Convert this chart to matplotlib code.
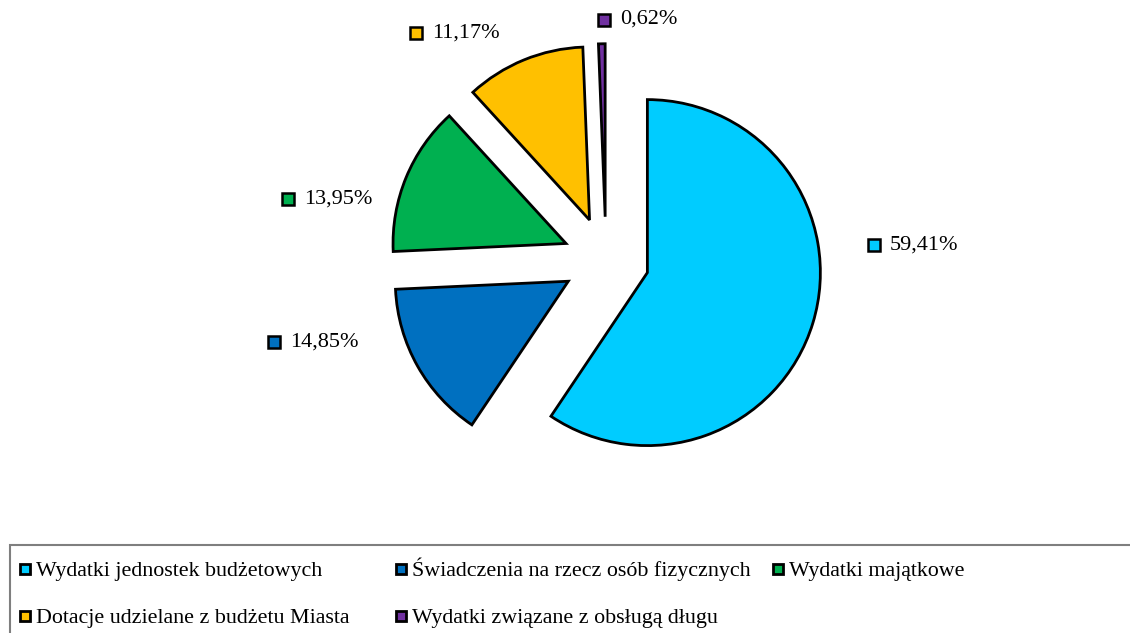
import matplotlib.pyplot as plt
from matplotlib.patches import Rectangle

# data
categories = ["Wydatki jednostek budżetowych",
              "Świadczenia na rzecz osób fizycznych",
              "Wydatki majątkowe",
              "Dotacje udzielane z budżetu Miasta",
              "Wydatki związane z obsługą długu"]
shares = [59.41, 14.85, 13.95, 11.17, 0.62]
labels = ["59,41%", "14,85%", "13,95%", "11,17%", "0,62%"]
colors = ["#00CCFF", "#0070C0", "#00B050", "#FFC000", "#7030A0"]

# label key positions (in pie-radius units, relative to pie centre)
label_pos = [(1.55, 0.085), (-1.92, -0.475), (-1.84, 0.355), (-1.10, 1.31), (-0.01, 1.39)]

plt.rcParams['font.family'] = ['Liberation Serif', 'DejaVu Serif']

W, H = 1130, 633
fig = plt.figure(figsize=(W / 100, H / 100), dpi=100)
ax = fig.add_axes([0, 0, 1, 1])

R = 173.0          # pie radius in pixels
cx, cy = 606, 260  # pie centre in pixels (from top-left)

wedges, _ = ax.pie(shares, colors=colors, startangle=90, counterclock=False,
                   explode=[0.25] * len(shares), radius=1,
                   wedgeprops=dict(edgecolor='black', linewidth=2))

ax.set_xlim(-cx / R, (W - cx) / R)
ax.set_ylim(-(H - cy) / R, cy / R)
ax.set_aspect('auto')
ax.axis('off')

for (lx, ly), txt, col in zip(label_pos, labels, colors):
    ax.plot(lx, ly, marker='s', ms=8, mfc=col, mec='black', mew=1.8, clip_on=False)
    ax.text(lx + 16 / R, ly, txt, fontsize=16, va='center', ha='left')

# legend frame (runs off the right and bottom edges)
fig.patches.append(Rectangle((10 / W, -0.05), 1.1, (H - 545) / H + 0.05,
                             transform=fig.transFigure, fill=False,
                             edgecolor='#7f7f7f', linewidth=1.5))

# legend entries, row-wise, placed by hand (pixel positions from top-left)
key_x = [25, 401, 778, 25, 401]
row_y = [569, 569, 569, 616, 616]
key = 10.5
for name, col, kx, ky in zip(categories, colors, key_x, row_y):
    fig.patches.append(Rectangle(((kx - key / 2) / W, 1 - (ky + key / 2) / H), key / W, key / H,
                                 transform=fig.transFigure, facecolor=col,
                                 edgecolor='black', linewidth=2))
    fig.text((kx + 11) / W, 1 - (ky + 7) / H, name, fontsize=15.8,
             ha='left', va='baseline')

fig.savefig("out.png", dpi=100)
